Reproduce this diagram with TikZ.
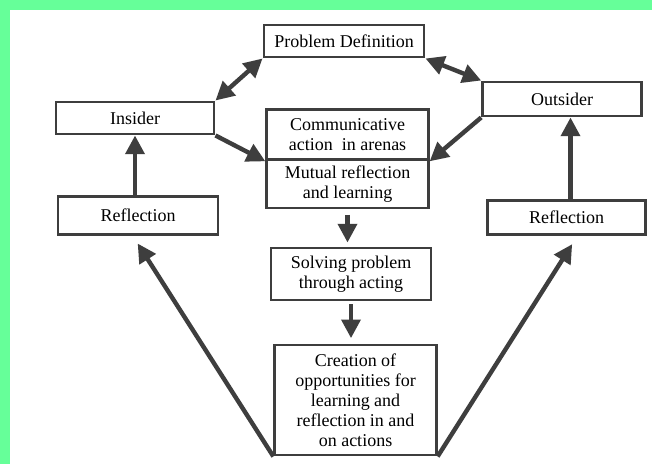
\documentclass[tikz,border=0pt]{standalone}
\usepackage{fontspec}
\setmainfont{Liberation Serif}
\usetikzlibrary{arrows.meta}
\definecolor{mint}{RGB}{102,255,153}
\definecolor{ink}{RGB}{62,62,62}
\tikzset{
	box/.style={draw=ink, line width=2.2pt, fill=white, align=center, inner sep=0pt,
		font=\fontsize{13.5}{15}\selectfont},
	link/.style={draw=ink, line width=3.3pt, -{Triangle[length=14pt,width=14pt]}},
	twolink/.style={draw=ink, line width=3.3pt,
		{Triangle[length=14pt,width=14pt]}-{Triangle[length=14pt,width=14pt]}}
}
\begin{document}
\begin{tikzpicture}[x=0.75pt, y=-0.75pt]
	\useasboundingbox (0,0) rectangle (652,464);
	\fill[white] (0,0) rectangle (652,464);
	\fill[mint] (0,0) rectangle (652,10);
	\fill[mint] (0,0) rectangle (10,464);

	\node[box, minimum width=120pt, minimum height=24pt] (pd) at (344,41) {Problem Definition};
	\node[box, minimum width=118.5pt, minimum height=24pt] (ins) at (135,118) {Insider};
	\node[box, minimum width=119pt, minimum height=25.5pt] (out) at (562,99) {Outsider};
	\node[box, minimum width=121pt, minimum height=38pt] (comm) at (347.5,134.5) {Communicative\\action\ \ in arenas};
	\node[box, minimum width=121pt, minimum height=36pt] (mutual) at (347.5,184) {Mutual reflection\\and learning};
	\node[box, minimum width=120pt, minimum height=28pt] (reflL) at (138,215.5) {Reflection};
	\node[box, minimum width=118pt, minimum height=26pt] (reflR) at (566.5,217.5) {Reflection};
	\node[box, minimum width=120pt, minimum height=39pt] (solve) at (351,274) {Solving problem\\through acting};
	\node[box, minimum width=121pt, minimum height=82.5pt] (create) at (355.5,400) {Creation of\\opportunities for\\learning and\\reflection in and\\on actions};

	\draw[twolink] (ins.north east) -- (pd.south west);
	\draw[twolink] (pd.south east) -- (out.north west);
	\draw[link] (ins.south east) -- (comm.south west);
	\draw[link] (out.south west) -- (comm.south east);
	\draw[link] (ins.south |- reflL.north) -- (ins.south);
	\draw[link] ([xshift=3pt]reflR.north) -- ([xshift=3pt]reflR.north |- out.south);
	\draw[link, shorten <=4pt, shorten >=3pt] (mutual.south) -- (mutual.south |- solve.north);
	\draw[link, shorten <=2pt, shorten >=4pt] (solve.south) -- (solve.south |- create.north);
	\draw[link, shorten >=7pt] (create.south west) -- ([xshift=-4pt]reflL.south);
	\draw[link, shorten >=7pt] (create.south east) -- ([xshift=8pt]reflR.south);
\end{tikzpicture}
\end{document}
